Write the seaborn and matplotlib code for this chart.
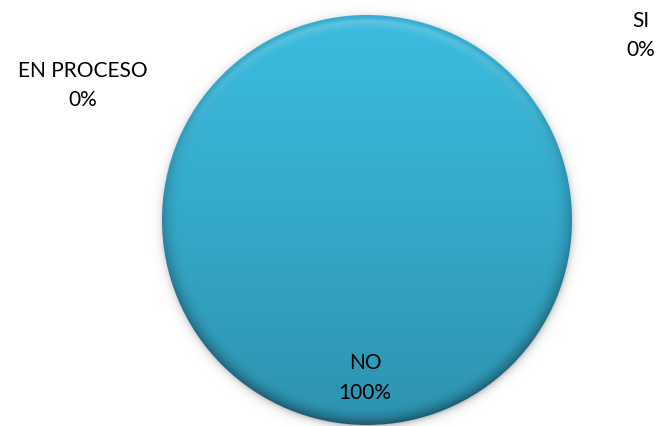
import numpy as np
import matplotlib
matplotlib.use("Agg")
import matplotlib.pyplot as plt
import seaborn as sns
from matplotlib.colors import to_rgb

# Survey answers and their shares (%)
categories = ["SI", "NO", "EN PROCESO"]
shares = [0, 100, 0]

sns.set_theme(style="white")
plt.rcParams["font.family"] = ["Lato", "DejaVu Sans"]

W, H, DPI = 660, 427, 100
fig = plt.figure(figsize=(W / DPI, H / DPI), dpi=DPI)
fig.patch.set_facecolor("white")

# pie centre and radius in pixels
cx, cy, rad = 367, 221, 205
ax = fig.add_axes([(cx - rad) / W, (H - cy - rad) / H, 2 * rad / W, 2 * rad / H])

base = "#37b1d2"
wedges, _ = ax.pie(shares, startangle=90, counterclock=False, radius=1,
                   colors=[base] * len(shares),
                   wedgeprops=dict(linewidth=0))

n = 400
xs = np.linspace(-1, 1, n)
X, Y = np.meshgrid(xs, xs[::-1])
R = np.hypot(X, Y)

# soft drop shadow just outside the disc
sh_n = 500
sx = np.linspace(-1.08, 1.08, sh_n)
SX, SY = np.meshgrid(sx, sx[::-1])
SR = np.hypot(SX, SY + 0.01)
sh_alpha = np.where(SR > 0.99, 0.30 * np.exp(-(SR - 0.99) / 0.018), 0.0)
sh = np.zeros((sh_n, sh_n, 4))
sh[..., 3] = sh_alpha
ax.imshow(sh, extent=[-1.08, 1.08, -1.08, 1.08], zorder=0.5, clip_on=False,
          interpolation="bilinear")

# vertical gradient fill for every visible wedge
top = np.array(to_rgb("#3cbde1"))
bot = np.array(to_rgb("#2d93b0"))
t = (1 - Y) / 2
grad = top[None, None, :] * (1 - t[..., None]) + bot[None, None, :] * t[..., None]

# bevel: darker rim, slight highlight at the top edge
rim = np.clip((R - 0.91) / 0.09, 0, 1) ** 2
shade = 1 - 0.32 * rim * np.clip(0.6 - 0.6 * Y, 0.25, 1.2)
img = grad * shade[..., None]
hl = np.clip((R - 0.93) / 0.05, 0, 1) * np.clip((0.99 - R) / 0.02, 0, 1) * np.clip(Y, 0, 1) ** 2
img = img + (1 - img) * 0.25 * hl[..., None]
img = np.clip(img, 0, 1)

for w, v in zip(wedges, shares):
    if v <= 0:
        continue
    im = ax.imshow(img, extent=[-1, 1, -1, 1], zorder=2, interpolation="bilinear")
    im.set_clip_path(w)
    w.set_visible(False)

# data labels: name on the first line, share below
label_pos = {"SI": (1.337, 0.905), "NO": (-0.01, -0.765), "EN PROCESO": (-1.385, 0.66)}
for name, v in zip(categories, shares):
    x, y = label_pos[name]
    ax.text(x, y, f"{name}\n{v}%", ha="center", va="center", fontsize=15,
            color="black", linespacing=1.6, zorder=5, clip_on=False)

ax.set_xlim(-1, 1)
ax.set_ylim(-1, 1)
ax.set_aspect("equal")
ax.axis("off")

fig.savefig("out.png", dpi=DPI, facecolor="white")
